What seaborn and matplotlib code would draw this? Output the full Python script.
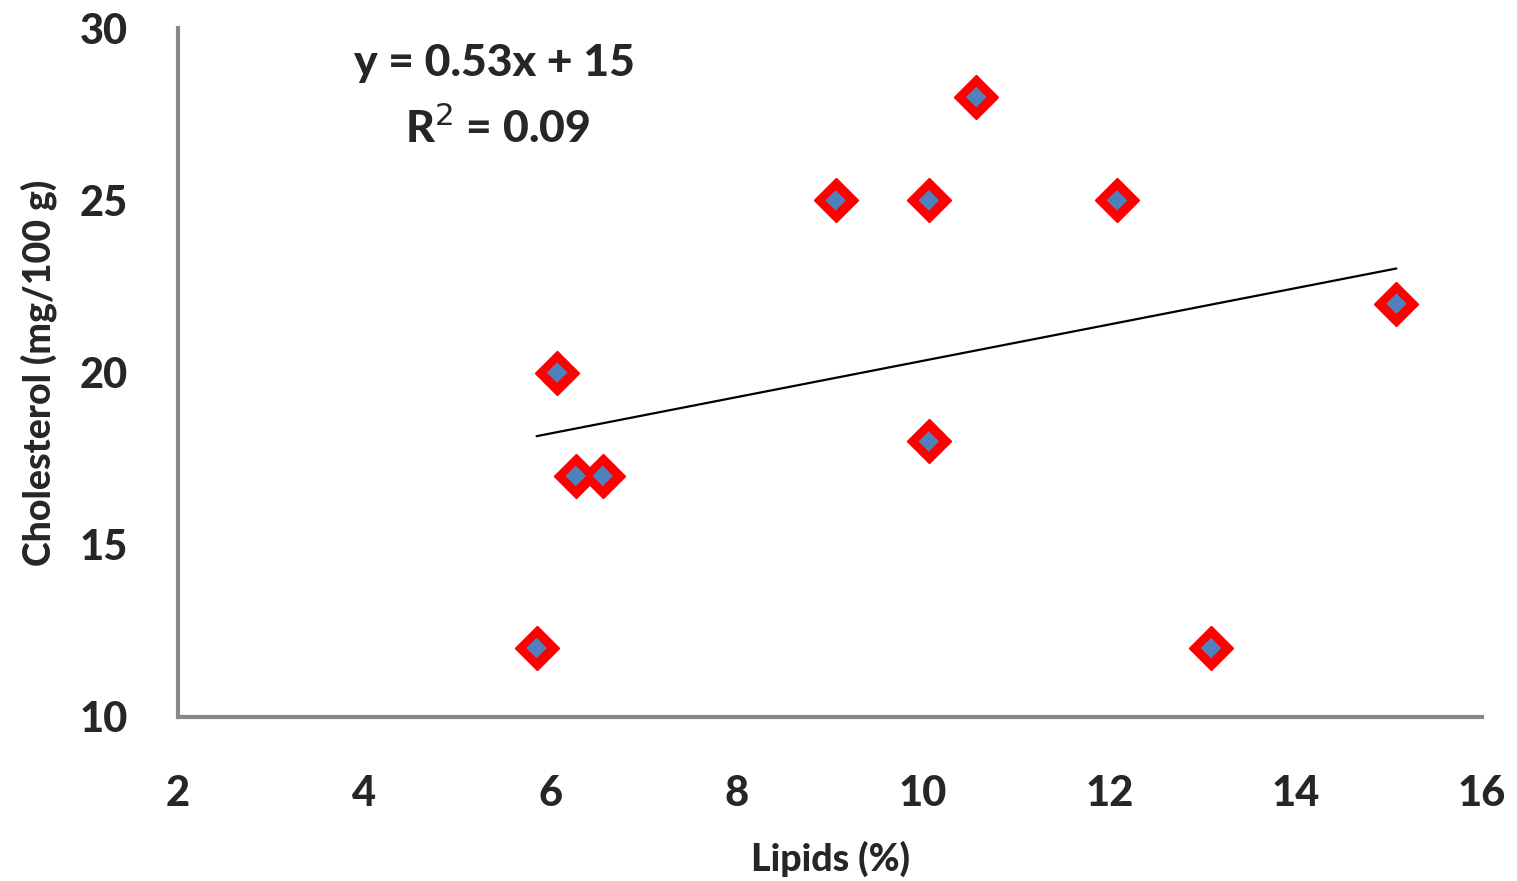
import pandas as pd
import seaborn as sns
import matplotlib.pyplot as plt

# values
lipids = [5.85, 6.07, 6.27, 6.56, 9.06, 10.06, 10.06, 10.57, 12.08, 13.09, 15.08]
cholesterol = [12, 20, 17, 17, 25, 25, 18, 28, 25, 12, 22]
x_ticks = [2, 4, 6, 8, 10, 12, 14, 16]
y_ticks = [10, 15, 20, 25, 30]

df = pd.DataFrame({"Lipids": lipids, "Cholesterol": cholesterol})

sns.set_style("white")
plt.rcParams['font.family'] = ['Lato', 'DejaVu Sans']

fig = plt.figure(figsize=(15.17, 8.81), dpi=100)
ax = fig.add_axes([0.1173, 0.1862, 0.8597, 0.7818])

# trendline
sns.regplot(data=df, x="Lipids", y="Cholesterol", ci=None, scatter=False,
            line_kws={"color": "black", "linewidth": 1.6}, ax=ax)

# red diamond with a small blue-grey diamond inside
sns.scatterplot(data=df, x="Lipids", y="Cholesterol", marker="D", s=22 ** 2,
                color="#ff0000", edgecolor="#ff0000", linewidth=1.5, ax=ax, zorder=3)
sns.scatterplot(data=df, x="Lipids", y="Cholesterol", marker="D", s=10.5 ** 2,
                color="#4f81bd", edgecolor="none", ax=ax, zorder=4)

ax.set_xlim(2, 16)
ax.set_ylim(10, 30)
ax.set_xticks(x_ticks)
ax.set_yticks(y_ticks)
ax.tick_params(length=0, labelsize=30)
ax.tick_params(axis="x", pad=42)
ax.tick_params(axis="y", pad=36)
for lab in ax.get_xticklabels() + ax.get_yticklabels():
    lab.set_fontweight("black")

for side in ["top", "right"]:
    ax.spines[side].set_visible(False)
for side in ["left", "bottom"]:
    ax.spines[side].set_color("#888888")
    ax.spines[side].set_linewidth(3)

ax.set_xlabel("Lipids (%)", fontsize=27, fontweight="black", labelpad=20)
ax.set_ylabel("Cholesterol (mg/100 g)", fontsize=27, fontweight="black", labelpad=16)

ax.text(0.243, 0.95, "y = 0.53x + 15", transform=ax.transAxes, ha="center",
        va="center", fontsize=32, fontweight="black")
ax.text(0.245, 0.855, "R$^2$ = 0.09", transform=ax.transAxes, ha="center",
        va="center", fontsize=32, fontweight="black")

fig.savefig("out.png", dpi=100)
